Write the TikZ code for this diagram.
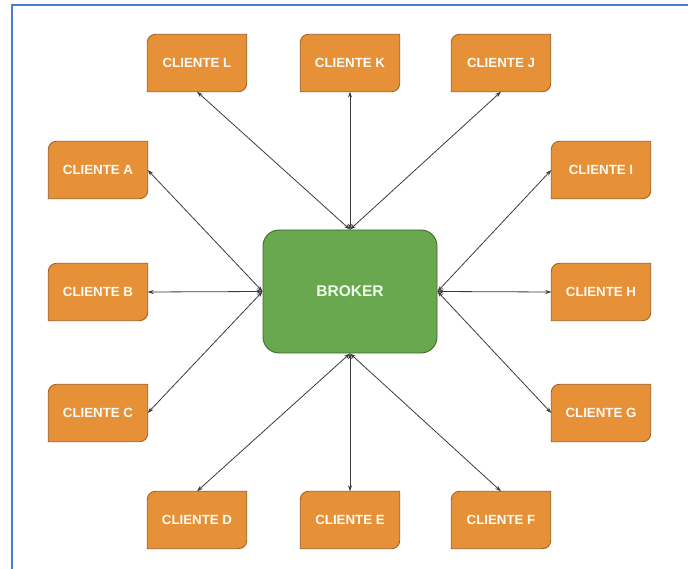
\documentclass[tikz,border=0pt]{standalone}
\usepackage{fontspec}
\setmainfont{Liberation Sans}
\usetikzlibrary{arrows.meta,backgrounds}
\definecolor{clientfill}{HTML}{E69138}
\definecolor{clientline}{HTML}{9C5A1E}
\definecolor{brokerfill}{HTML}{6AA84F}
\definecolor{brokerline}{HTML}{3E6B2C}
\definecolor{frameblue}{HTML}{4A7BD9}
\definecolor{linkgray}{HTML}{3A3A3A}
\tikzset{
  client/.style={minimum width=99pt, minimum height=57pt, inner sep=0pt,
    text=white!96!orange, font=\fontsize{13.3}{15}\selectfont\bfseries},
  clientshape/.style={fill=clientfill, draw=clientline, line width=0.8pt},
  broker/.style={draw=brokerline, fill=brokerfill, line width=0.9pt,
    rounded corners=16pt, minimum width=174pt, minimum height=123pt,
    text=white!92!green, font=\fontsize{15.5}{18}\selectfont\bfseries},
  link/.style={draw=linkgray, line width=0.8pt,
    {Stealth[length=6pt,width=4pt]}-{Stealth[length=6pt,width=4pt]}},
}
\begin{document}
\begin{tikzpicture}[x=1pt,y=-1pt]
  \useasboundingbox (0,0) rectangle (688,569);
  % frame lines along the top and left edges
  \draw[frameblue, line width=2pt] (12,569) -- (12,5) -- (688,5);

  % broker in the middle
  \node[broker] (broker) at (350,291.5) {BROKER};

  % clients around the broker
  \node[client] (L) at (197,63)  {CLIENTE L};
  \node[client] (K) at (350,63)  {CLIENTE K};
  \node[client] (J) at (501,63)  {CLIENTE J};
  \node[client] (A) at (98,170)  {CLIENTE A};
  \node[client] (B) at (98,292)  {CLIENTE B};
  \node[client] (C) at (98,413)  {CLIENTE C};
  \node[client] (I) at (601,170) {CLIENTE I};
  \node[client] (H) at (601,292) {CLIENTE H};
  \node[client] (G) at (601,413) {CLIENTE G};
  \node[client] (D) at (197,520) {CLIENTE D};
  \node[client] (E) at (350,520) {CLIENTE E};
  \node[client] (F) at (501,520) {CLIENTE F};

  % client boxes: top-left and bottom-right corners rounded
  \begin{scope}[on background layer]
    \foreach \n in {A,B,C,D,E,F,G,H,I,J,K,L}{
      \filldraw[clientshape] (\n.south west)
        -- ([yshift=-8pt]\n.north west) arc[start angle=180, end angle=90, radius=8pt]
        -- (\n.north east)
        -- ([yshift=8pt]\n.south east) arc[start angle=0, end angle=-90, radius=8pt]
        -- cycle;
    }
  \end{scope}

  % two-way links
  \foreach \n in {L,K,J}{\draw[link] (broker.north) -- (\n.south);}
  \foreach \n in {D,E,F}{\draw[link] (broker.south) -- (\n.north);}
  \foreach \n in {A,B,C}{\draw[link] (broker.west) -- (\n.east);}
  \foreach \n in {I,H,G}{\draw[link] (broker.east) -- (\n.west);}
\end{tikzpicture}
\end{document}
